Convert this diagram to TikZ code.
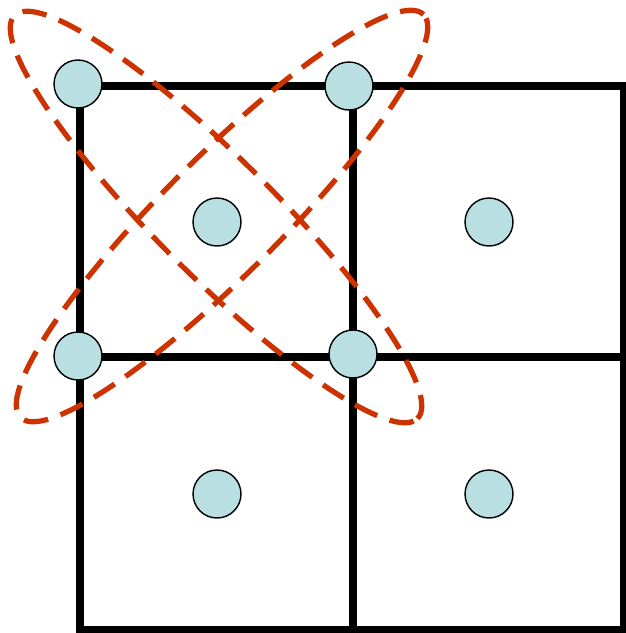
\documentclass[tikz,border=0pt]{standalone}
\usetikzlibrary{shapes.geometric}
\definecolor{dotfill}{RGB}{185,223,226}
\definecolor{loopred}{RGB}{204,51,0}
\tikzset{
  cell/.style={line width=4.2pt, line cap=rect},
  dot/.style={draw, circle, fill=dotfill, line width=0.8pt, minimum size=0.96cm, inner sep=0pt},
  loop/.style={draw=loopred, ellipse, line width=3pt, dash pattern=on 14pt off 7.5pt, minimum width=11.4cm, minimum height=2.35cm, inner sep=0pt}
}
\begin{document}
\begin{tikzpicture}[x=0.02cm, y=-0.02cm]
  \useasboundingbox (0,0) rectangle (626,633);
  % Rutenett
  \draw[cell] (80,86) rectangle (624,630);
  \draw[cell] (353,86) -- (353,630);
  \draw[cell] (80,357) -- (624,357);
  % Hjoerner
  \node[dot] (c1) at (78,84) {};
  \node[dot] (c2) at (349,86) {};
  \node[dot] (c3) at (78,356) {};
  \node[dot] (c4) at (353,354) {};
  % Sentre
  \node[dot] (m1) at (217,222) {};
  \node[dot] (m2) at (489,222) {};
  \node[dot] (m3) at (217,494) {};
  \node[dot] (m4) at (489,494) {};
  % Diagonale loekker
  \node[loop, rotate=-45] (la) at (216,217) {};
  \node[loop, rotate=45] (lb) at (222,216) {};
\end{tikzpicture}
\end{document}
